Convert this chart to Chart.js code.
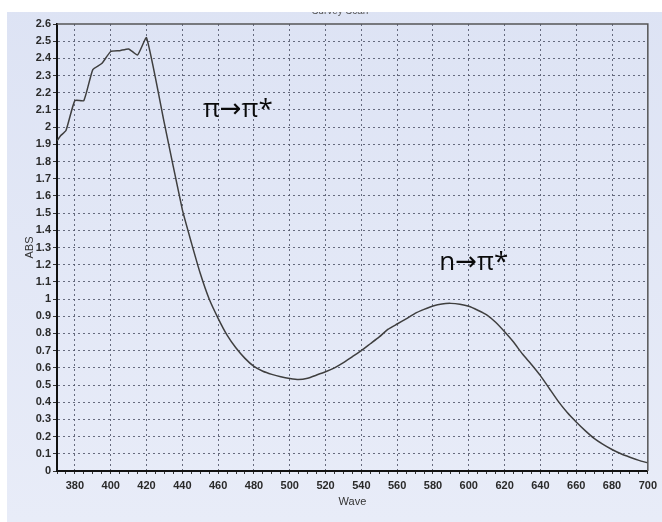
<!DOCTYPE html>
<html>
<head>
<meta charset="utf-8">
<script src="https://cdn.jsdelivr.net/npm/chart.js@4/dist/chart.umd.min.js"></script>
<style>
  html, body { margin: 0; padding: 0; background: #fff; }
  #wrap { width: 662px; height: 522px; }
</style>
</head>
<body>
<div id="wrap"><canvas id="absChart" width="662" height="522"></canvas></div>
<script>
// spectrum
const wavelengths = [370, 372, 375, 380, 385, 390, 395, 400, 405, 410, 415, 420, 430, 440, 445, 450, 455, 460, 465, 470,
    475, 480, 485, 490, 495, 500, 505, 510, 515, 520, 525, 530, 535, 540, 545, 550, 555, 560, 565, 570,
    575, 580, 585, 590, 595, 600, 605, 610, 615, 620, 625, 630, 635, 640, 645, 650, 655, 660, 665, 670,
    675, 680, 685, 690, 695, 700];
const absorbance = [1.92, 1.95, 1.98, 2.155, 2.155, 2.335, 2.37, 2.44, 2.445, 2.455, 2.42, 2.52, 2.02, 1.52, 1.33, 1.15, 1.0, 0.888, 0.79, 0.715,
    0.655, 0.608, 0.58, 0.562, 0.548, 0.538, 0.532, 0.54, 0.558, 0.577, 0.6, 0.63, 0.665, 0.70, 0.74, 0.78, 0.825, 0.855, 0.885, 0.917,
    0.94, 0.96, 0.972, 0.975, 0.97, 0.958, 0.935, 0.908, 0.865, 0.81, 0.75, 0.68, 0.62, 0.555, 0.48, 0.405, 0.34, 0.285, 0.235, 0.19,
    0.155, 0.125, 0.1, 0.08, 0.062, 0.047];

const xRange = [370, 700];
const yRange = [0, 2.6];
const xMinorStep = 5;
const xLabelStep = 20;
const yStep = 0.1;

const bandLabels = ["π→π*", "n→π*"];
const bandLabelAt = [[451.5, 2.10], [583.5, 1.21]];

const gridColor = "rgba(80,85,105,0.85)";
const axisFont = { family: "'Liberation Sans Narrow', 'Liberation Sans'", size: 11, weight: "bold" };

const backdrop = {
    id: "backdrop",
    beforeDraw(chart) {
        const c = chart.ctx;
        const w = chart.width, h = chart.height;
        c.save();
        const g = c.createLinearGradient(0, 0, 0, h);
        g.addColorStop(0, "#dde3f4");
        g.addColorStop(1, "#e8ecf8");
        c.fillStyle = g;
        c.fillRect(0, 0, w, h);
        // cut-off title
        c.fillStyle = "#555";
        c.font = "10px 'Liberation Sans'";
        c.textAlign = "center";
        c.textBaseline = "bottom";
        c.fillText("Survey Scan", 340, 16);
        c.fillStyle = "#fff";
        c.fillRect(0, 0, w, 12);
        c.fillRect(0, 0, 7, h);
        c.restore();
    },
    afterDatasetsDraw(chart) {
        const c = chart.ctx;
        const a = chart.chartArea;
        const xs = chart.scales.x, ys = chart.scales.y;
        c.save();
        // top + right frame
        c.strokeStyle = "#555";
        c.lineWidth = 1.5;
        c.beginPath();
        c.moveTo(a.left, a.top);
        c.lineTo(a.right, a.top);
        c.lineTo(a.right, a.bottom);
        c.stroke();
        // axis titles
        c.fillStyle = "#333";
        c.font = "11px 'Liberation Sans Narrow', 'Liberation Sans'";
        c.textAlign = "center";
        c.textBaseline = "middle";
        c.fillText("Wave", (a.left + a.right) / 2, 502);
        c.translate(30, (a.top + a.bottom) / 2);
        c.rotate(-Math.PI / 2);
        c.fillText("ABS", 0, 0);
        c.setTransform(1, 0, 0, 1, 0, 0);
        // band labels
        c.fillStyle = "#0a0a0a";
        c.font = "26px 'Open Sans', 'DejaVu Sans'";
        c.textAlign = "left";
        c.textBaseline = "middle";
        bandLabels.forEach((t, i) => {
            c.fillText(t, xs.getPixelForValue(bandLabelAt[i][0]), ys.getPixelForValue(bandLabelAt[i][1]));
        });
        c.restore();
    }
};

const ctx = document.getElementById("absChart").getContext("2d");
new Chart(ctx, {
    type: "line",
    data: {
        datasets: [{
            label: "ABS",
            data: wavelengths.map((x, i) => ({ x, y: absorbance[i] })),
            borderColor: "#3f3f3f",
            borderWidth: 1.5,
            pointRadius: 0,
            tension: 0.15,
            fill: false
        }]
    },
    options: {
        responsive: false,
        devicePixelRatio: 1,
        animation: false,
        layout: { padding: { left: 0, top: 24, right: 6, bottom: 0 } },
        plugins: {
            legend: { display: false },
            tooltip: { enabled: false }
        },
        scales: {
            x: {
                type: "linear",
                min: xRange[0],
                max: xRange[1],
                afterFit: s => { s.height = 51; },
                afterBuildTicks: s => {
                    const t = [];
                    for (let v = xRange[0]; v <= xRange[1]; v += xMinorStep) t.push({ value: v });
                    s.ticks = t;
                },
                ticks: {
                    autoSkip: false,
                    maxRotation: 0,
                    padding: 5,
                    color: "#2a2a2a",
                    font: axisFont,
                    callback: v => (v % xLabelStep === 0 && v !== xRange[0]) ? String(v) : ""
                },
                grid: {
                    color: c => (c.tick && c.tick.value % xLabelStep === 0 && c.tick.value !== xRange[0] && c.tick.value !== xRange[1]) ? gridColor : "rgba(0,0,0,0)",
                    tickColor: "#333",
                    tickLength: 3,
                    lineWidth: 1
                },
                border: { display: true, color: "#111", width: 2, dash: [2, 3] }
            },
            y: {
                min: yRange[0],
                max: yRange[1],
                afterFit: s => { s.width = 57; },
                ticks: {
                    stepSize: yStep,
                    autoSkip: false,
                    padding: 2,
                    color: "#2a2a2a",
                    font: axisFont,
                    callback: v => String(+v.toFixed(1))
                },
                grid: {
                    color: c => (c.tick && c.tick.value > 0.05 && c.tick.value < 2.55) ? gridColor : "rgba(0,0,0,0)",
                    tickColor: "#333",
                    tickLength: 4,
                    lineWidth: 1
                },
                border: { display: true, color: "#111", width: 2, dash: [2, 3] }
            }
        }
    },
    plugins: [backdrop]
});
</script>
</body>
</html>
